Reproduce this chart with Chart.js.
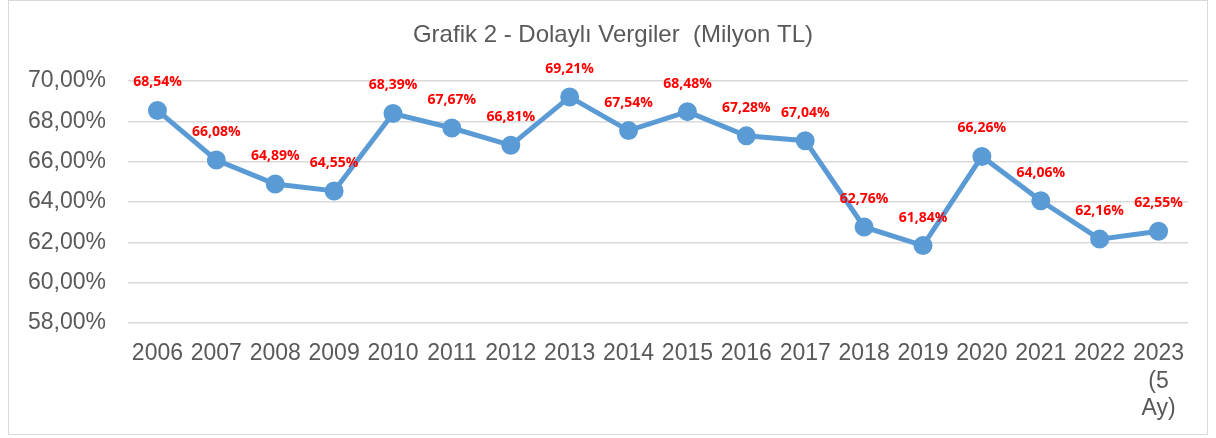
<!DOCTYPE html>
<html>
<head>
<meta charset="utf-8">
<script src="https://cdn.jsdelivr.net/npm/chart.js@4/dist/chart.umd.min.js"></script>
<style>
  body { margin: 0; background: #fff; }
  #kutu { position: absolute; left: 8px; top: 0; width: 1200px; height: 435px; border: 1px solid #d9d9d9; box-sizing: border-box; }
</style>
</head>
<body>
<div id="kutu"><canvas id="grafik"></canvas></div>
<script>
var yillar = ['2006','2007','2008','2009','2010','2011','2012','2013','2014','2015','2016','2017','2018','2019','2020','2021','2022',['2023','(5','Ay)']];
var oranlar = [68.54, 66.08, 64.89, 64.55, 68.39, 67.67, 66.81, 69.21, 67.54, 68.48, 67.28, 67.04, 62.76, 61.84, 66.26, 64.06, 62.16, 62.55];
var baslik = 'Grafik 2 - Dolaylı Vergiler  (Milyon TL)';
var eksenMin = 58, eksenMax = 70, eksenAdim = 2;

var yazi = 'Liberation Sans, Arial, sans-serif';

function yuzde(v){
    return v.toFixed(2).replace('.', ',') + '%';
}

// veri etiketleri (kirmizi, noktalarin ustunde) + baslik
var etiketler = {
    id: 'etiketler',
    afterDatasetsDraw: function(chart){
        var ctx = chart.ctx;
        var meta = chart.getDatasetMeta(0);
        ctx.save();
        ctx.fillStyle = '#ff0000';
        ctx.font = 'bold 14px "Open Sans", sans-serif';
        ctx.textAlign = 'center';
        ctx.textBaseline = 'middle';
        meta.data.forEach(function(p, i){
            ctx.fillText(yuzde(oranlar[i]), p.x, p.y - 28);
        });
        // baslik, cercevenin ortasina
        ctx.fillStyle = '#595959';
        ctx.font = '24px ' + yazi;
        ctx.fillText(baslik, chart.width / 2 + 5, 34);
        ctx.restore();
    }
};

var ctx = document.getElementById('grafik');
new Chart(ctx, {
    type: 'line',
    data: {
        labels: yillar,
        datasets: [{
            data: oranlar,
            borderColor: '#5b9bd5',
            backgroundColor: '#5b9bd5',
            borderWidth: 5,
            pointRadius: 7,
            pointHoverRadius: 7,
            tension: 0
        }]
    },
    options: {
        responsive: true,
        maintainAspectRatio: false,
        animation: false,
        layout: { padding: { left: 0, right: 19, top: 80, bottom: 0 } },
        plugins: {
            legend: { display: false },
            tooltip: { enabled: false },
            title: { display: false }
        },
        scales: {
            x: {
                offset: true,
                afterFit: function(s){ s.height = 111; },
                grid: { display: false },
                border: { display: false },
                ticks: {
                    color: '#595959',
                    font: { family: yazi, size: 23 },
                    padding: 9,
                    maxRotation: 0,
                    autoSkip: false
                }
            },
            y: {
                min: eksenMin,
                max: eksenMax,
                afterFit: function(s){ s.width = 119; },
                grid: { color: '#d9d9d9', lineWidth: 1.5, drawTicks: false },
                border: { display: false },
                ticks: {
                    stepSize: eksenAdim,
                    color: '#595959',
                    font: { family: yazi, size: 23 },
                    padding: 22,
                    callback: function(v){ return yuzde(v); }
                }
            }
        }
    },
    plugins: [etiketler]
});
</script>
</body>
</html>
